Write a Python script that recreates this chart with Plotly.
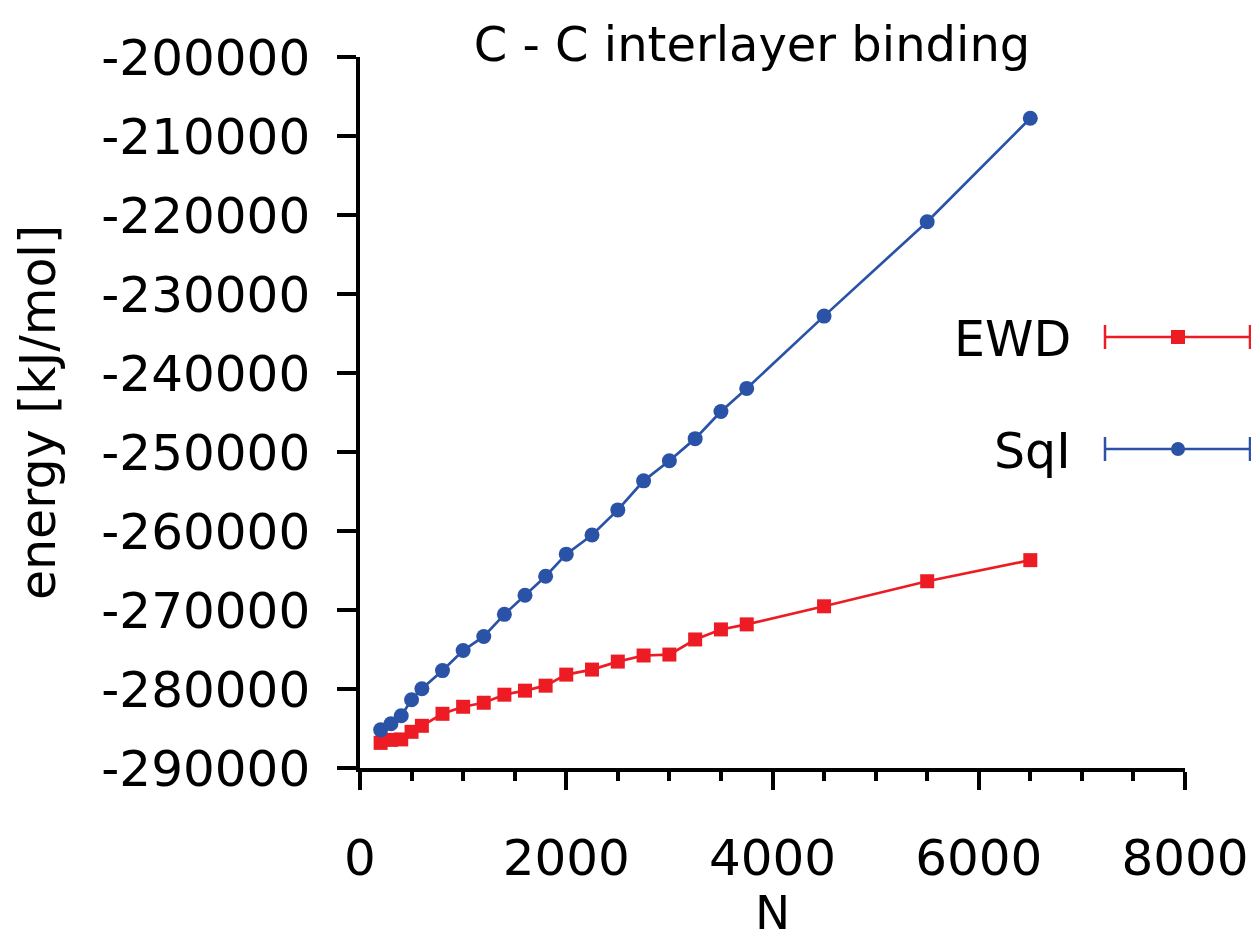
import plotly.graph_objects as go

# ---- data ----
N = [200, 300, 400, 500, 600, 800, 1000, 1200, 1400, 1600, 1800, 2000,
     2250, 2500, 2750, 3000, 3250, 3500, 3750, 4500, 5500, 6500]
ewd = [-286820, -286440, -286380, -285420, -284660, -283140, -282250, -281740,
       -280720, -280210, -279580, -278180, -277540, -276530, -275760, -275640,
       -273730, -272460, -271820, -269530, -266360, -263690]
sqi = [-285170, -284400, -283390, -281360, -279960, -277670, -275130, -273350,
       -270550, -268140, -265720, -262930, -260510, -257330, -253650, -251100,
       -248310, -244870, -241950, -232800, -220850, -207760]
series_names = ["EWD", "SqI"]
x_ticks = [0, 2000, 4000, 6000, 8000]
y_ticks = list(range(-290000, -199999, 10000))
y_labels = [str(v) for v in y_ticks]  # plain hyphen-minus as in the reference

RED = "#ED1C24"
BLUE = "#2A52A6"
FONT = "DejaVu Sans"

fig = go.Figure()
fig.add_trace(go.Scatter(x=N, y=ewd, mode="lines+markers", name=series_names[0],
                         line=dict(color=RED, width=2.7),
                         marker=dict(symbol="square", size=14, color=RED),
                         showlegend=False))
fig.add_trace(go.Scatter(x=N, y=sqi, mode="lines+markers", name=series_names[1],
                         line=dict(color=BLUE, width=2.7),
                         marker=dict(symbol="circle", size=15, color=BLUE),
                         showlegend=False))
# invisible helper trace so the label-only x axis is drawn
fig.add_trace(go.Scatter(x=N, y=ewd, xaxis="x2", mode="markers", opacity=0,
                         hoverinfo="skip", showlegend=False))

# page body has an 8px margin; compensate so the plot sits where the reference has it
OFF = 8
W, H = 1259 - OFF, 946 - OFF
L, T = 360 - OFF, 57 - OFF
pw, ph = 825, 711
R, B = W - L - pw, H - T - ph

def px(x):  # reference pixel -> paper x
    return (x - OFF - L) / pw

def py(y):  # reference pixel -> paper y
    return (T + ph - (y - OFF)) / ph

shapes = []
annotations = []
legend_rows = [(series_names[0], RED, "square", 337), (series_names[1], BLUE, "circle", 449)]
for name, col, sym, yy in legend_rows:
    y0 = py(yy)
    x0, x1 = px(1105), px(1250)
    shapes.append(dict(type="line", xref="paper", yref="paper", x0=x0, x1=x1,
                       y0=y0, y1=y0, line=dict(color=col, width=2.5)))
    for xc in (x0, x1):
        shapes.append(dict(type="line", xref="paper", yref="paper", x0=xc, x1=xc,
                           y0=py(yy - 12), y1=py(yy + 12), line=dict(color=col, width=2.5)))
    shp = "rect" if sym == "square" else "circle"
    shapes.append(dict(type=shp, xref="paper", yref="paper",
                       x0=px(1171), x1=px(1185), y0=py(yy + 7), y1=py(yy - 7),
                       fillcolor=col, line=dict(width=0)))
    annotations.append(dict(text=name, xref="paper", yref="paper", x=px(1073), y=py(yy + 2),
                            xanchor="right", yanchor="middle", showarrow=False,
                            font=dict(family=FONT, size=49, color="black")))
# x-axis title
annotations.append(dict(text="N", xref="paper", yref="paper", x=0.5, y=py(912),
                        xanchor="center", yanchor="middle", showarrow=False, borderpad=0,
                        font=dict(family=FONT, size=47, color="black")))

fig.update_layout(
    width=W, height=H, autosize=False,
    margin=dict(l=L, r=R, t=T, b=B, pad=0),
    paper_bgcolor="white", plot_bgcolor="white",
    font=dict(family=FONT, size=48, color="black"),
    title=dict(text="C - C interlayer binding", x=(752 - OFF) / W, xref="container",
               xanchor="center", y=1 - (44 - OFF) / H, yref="container", yanchor="middle",
               font=dict(family=FONT, size=48, color="black")),
    shapes=shapes, annotations=annotations,
    showlegend=False,
    xaxis=dict(range=[0, 8000], tickvals=x_ticks, ticks="outside", ticklen=18, tickwidth=3.5,
               tickcolor="black", showline=True, linecolor="black", linewidth=3.5,
               showgrid=False, zeroline=False, showticklabels=False, automargin=False,
               minor=dict(dtick=500, ticks="outside", ticklen=9, tickwidth=3.5,
                          tickcolor="black", showgrid=False)),
    xaxis2=dict(range=[0, 8000], overlaying="x", side="bottom", anchor="y",
                tickvals=x_ticks, ticks="outside", ticklen=46, tickwidth=1,
                tickcolor="rgba(0,0,0,0)", showline=False, showgrid=False, zeroline=False,
                automargin=False, tickfont=dict(family=FONT, size=50)),
    yaxis=dict(range=[-290000, -200000], tickvals=y_ticks, ticktext=y_labels, ticks="outside",
               ticklen=19, tickwidth=3.5, tickcolor="black", showline=True, linecolor="black",
               linewidth=3.5, showgrid=False, zeroline=False, ticklabelstandoff=17,
               automargin=False, tickfont=dict(family=FONT, size=50),
               title=dict(text="energy [kJ/mol]", standoff=31, font=dict(family=FONT, size=49))),
)

fig.write_html("out.html")
